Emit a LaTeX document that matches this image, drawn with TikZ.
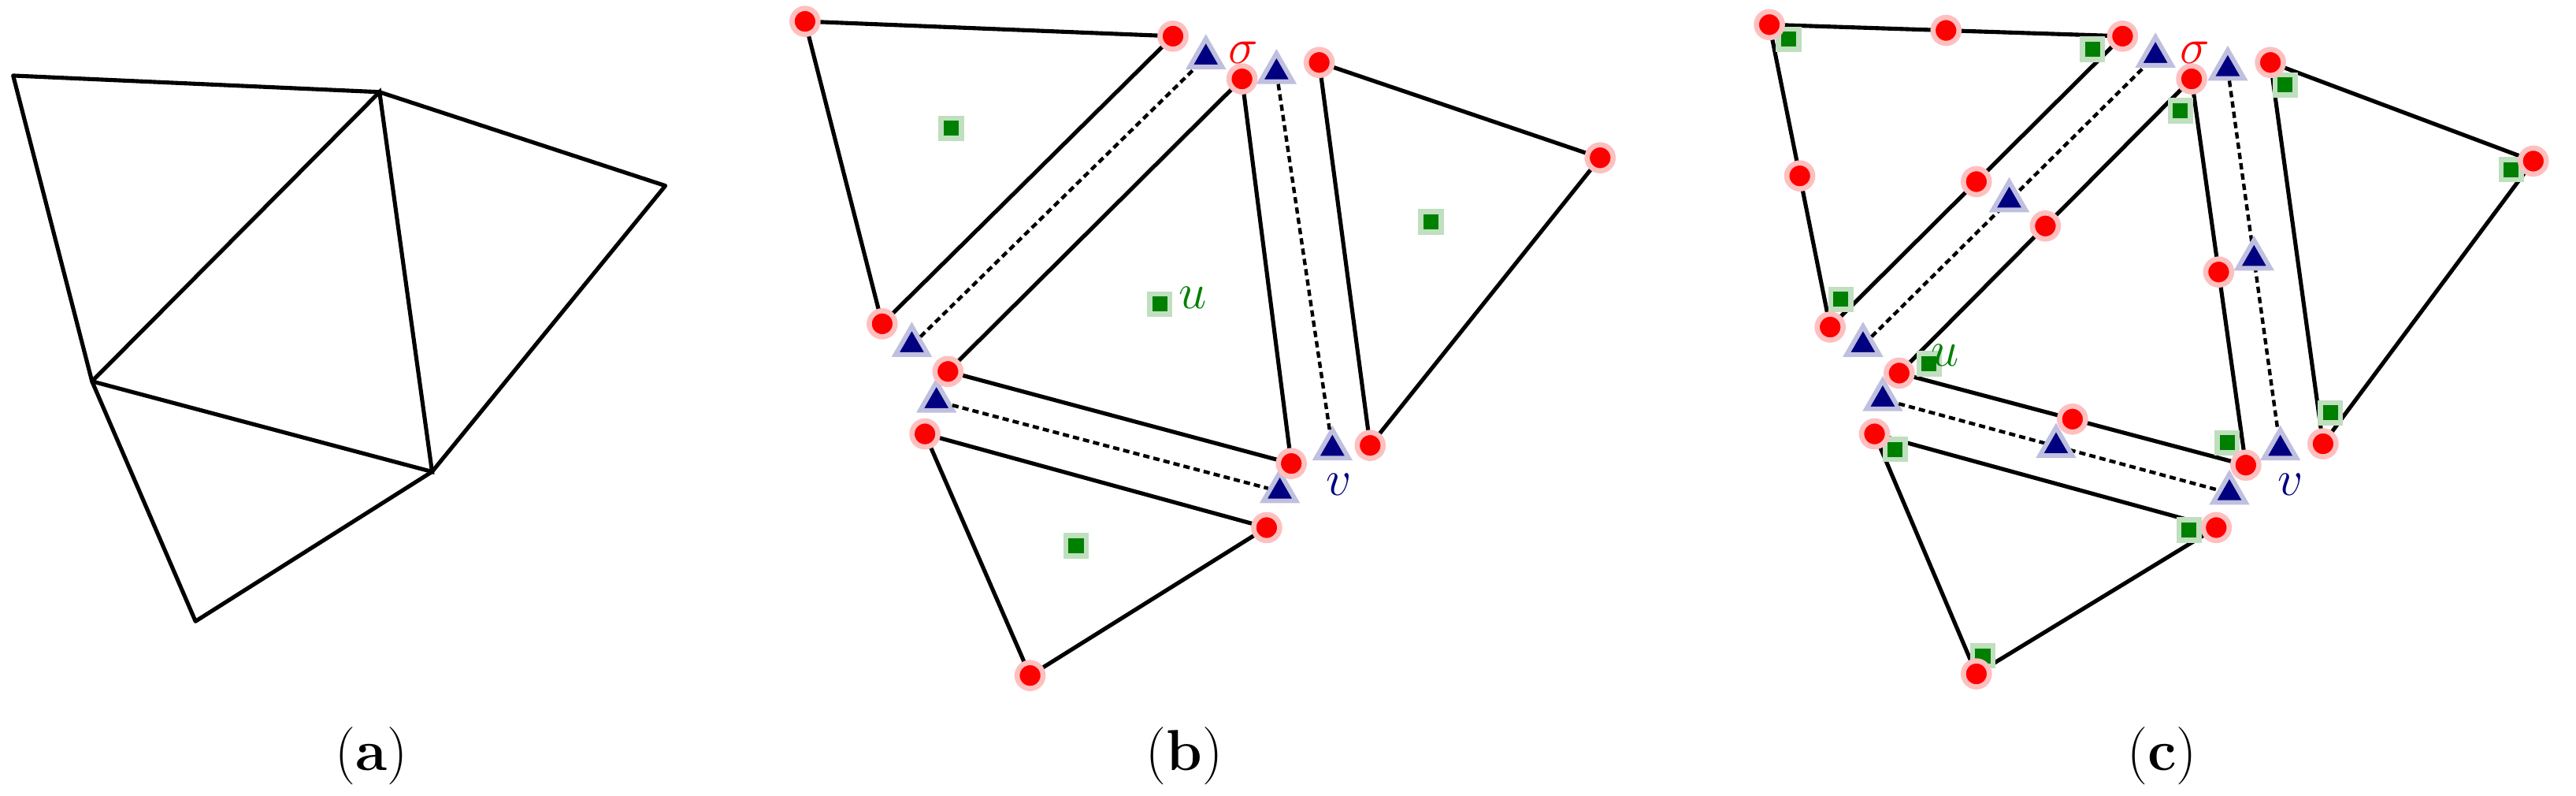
\documentclass[tikz,border=0pt]{standalone}
\usetikzlibrary{calc,shapes.geometric}
\definecolor{dgreen}{RGB}{0,128,0}
\definecolor{dblue}{RGB}{0,0,128}
\tikzset{
 edge/.style={line width=1.4pt,black},
 dual/.style={line width=1.2pt,black,dash pattern=on 2.2pt off 1.4pt},
 vdot/.style={circle,fill=red,draw=red!25,line width=1.8pt,inner sep=0pt,minimum size=9pt},
 sq/.style={rectangle,fill=dgreen,draw=dgreen!25,line width=1.8pt,inner sep=0pt,minimum size=7pt},
 tri/.style={regular polygon,regular polygon sides=3,fill=dblue,draw=dblue!25,line width=1.6pt,inner sep=0pt,minimum size=13pt},
 lab/.style={font=\fontsize{20}{24}\selectfont},
 ml/.style={font=\fontsize{18}{22}\selectfont,inner sep=1pt}
}
\begin{document}
\begin{tikzpicture}[x=0.02cm,y=-0.02cm]
\useasboundingbox (0,0) rectangle (1568,484.3);
% (a)
\coordinate (a1) at (8,46); \coordinate (a2) at (231,56); \coordinate (a3) at (405,113);
\coordinate (a4) at (56,232); \coordinate (a5) at (263,287); \coordinate (a6) at (119,378);
\draw[edge,line join=round] (a1)--(a2)--(a3)--(a5)--(a6)--(a4)--cycle;
\draw[edge] (a4)--(a2)--(a5)--(a4);
\node[lab] (la) at (226,460) {(\textbf{a})};
% (b)
\coordinate (b11) at (490,13); \coordinate (b12) at (714,22); \coordinate (b13) at (537,197);
\coordinate (b21) at (756,48); \coordinate (b22) at (577,226); \coordinate (b23) at (786,282);
\coordinate (b31) at (803,38); \coordinate (b32) at (974,96); \coordinate (b33) at (834,271);
\coordinate (b41) at (563,264); \coordinate (b42) at (771,321); \coordinate (b43) at (627,411);
\foreach \t in {1,2,3,4}{\draw[edge,line join=round] (b\t1)--(b\t2)--(b\t3)--cycle;}
\node[tri] (bt1) at (555,210) {}; \node[tri] (bt2) at (734,35) {};
\node[tri] (bt3) at (777,44) {}; \node[tri] (bt4) at (811,273) {};
\node[tri] (bt5) at (570,244) {}; \node[tri] (bt6) at (779,299) {};
\draw[dual] (bt1)--(bt2); \draw[dual] (bt3)--(bt4); \draw[dual] (bt5)--(bt6);
\foreach \t in {1,2,3,4}{\foreach \v in {1,2,3}{\node[vdot] at (b\t\v) {};}}
\node[sq] (bs1) at (579,78) {}; \node[sq] (bs2) at (706,185) {};
\node[sq] (bs3) at (871,135) {}; \node[sq] (bs4) at (655,332) {};
\node[ml,text=dgreen] (bu) at (726,181) {$u$};
\node[ml,text=red] (bsig) at (757,32) {$\sigma$};
\node[ml,text=dblue] (bv) at (815,295) {$v$};
\node[lab] (lb) at (721,460) {(\textbf{b})};
% (c)
\coordinate (c11) at (1077,15); \coordinate (c12) at (1292,22); \coordinate (c13) at (1114,199);
\coordinate (c21) at (1334,48); \coordinate (c22) at (1156,227); \coordinate (c23) at (1367,283);
\coordinate (c31) at (1382,38); \coordinate (c32) at (1542,98); \coordinate (c33) at (1414,270);
\coordinate (c41) at (1141,264); \coordinate (c42) at (1349,321); \coordinate (c43) at (1203,410);
\foreach \t in {1,2,3,4}{\draw[edge,line join=round] (c\t1)--(c\t2)--(c\t3)--cycle;}
\node[tri] (ct1) at (1134,210) {}; \node[tri] (ct2) at (1312,34) {};
\node[tri] (ct3) at (1356,42) {}; \node[tri] (ct4) at (1388,273) {};
\node[tri] (ct5) at (1146,243) {}; \node[tri] (ct6) at (1357,300) {};
\draw[dual] (ct1)--(ct2); \draw[dual] (ct3)--(ct4); \draw[dual] (ct5)--(ct6);
\node[tri] at ($(ct1)!0.5!(ct2)$) {}; \node[tri] at ($(ct3)!0.5!(ct4)$) {}; \node[tri] at ($(ct5)!0.5!(ct6)$) {};
\foreach \t in {1,2,3,4}{
 \coordinate (g\t) at ($1/3*(c\t1)+1/3*(c\t2)+1/3*(c\t3)$);
 \foreach \v in {1,2,3}{\node[sq] at ($(c\t\v)!0.14!(g\t)$) {};}
 \foreach \v in {1,2,3}{\node[vdot] at (c\t\v) {};}
}
\node[vdot] at ($(c11)!0.5!(c12)$) {}; \node[vdot] at ($(c12)!0.5!(c13)$) {}; \node[vdot] at ($(c11)!0.5!(c13)$) {};
\node[vdot] at ($(c21)!0.5!(c22)$) {}; \node[vdot] at ($(c21)!0.5!(c23)$) {}; \node[vdot] at ($(c22)!0.5!(c23)$) {};
\node[ml,text=dgreen] (cu) at (1184,216) {$u$};
\node[ml,text=red] (csig) at (1336,32) {$\sigma$};
\node[ml,text=dblue] (cv) at (1394,295) {$v$};
\node[lab] (lc) at (1316,460) {(\textbf{c})};
\end{tikzpicture}
\end{document}
